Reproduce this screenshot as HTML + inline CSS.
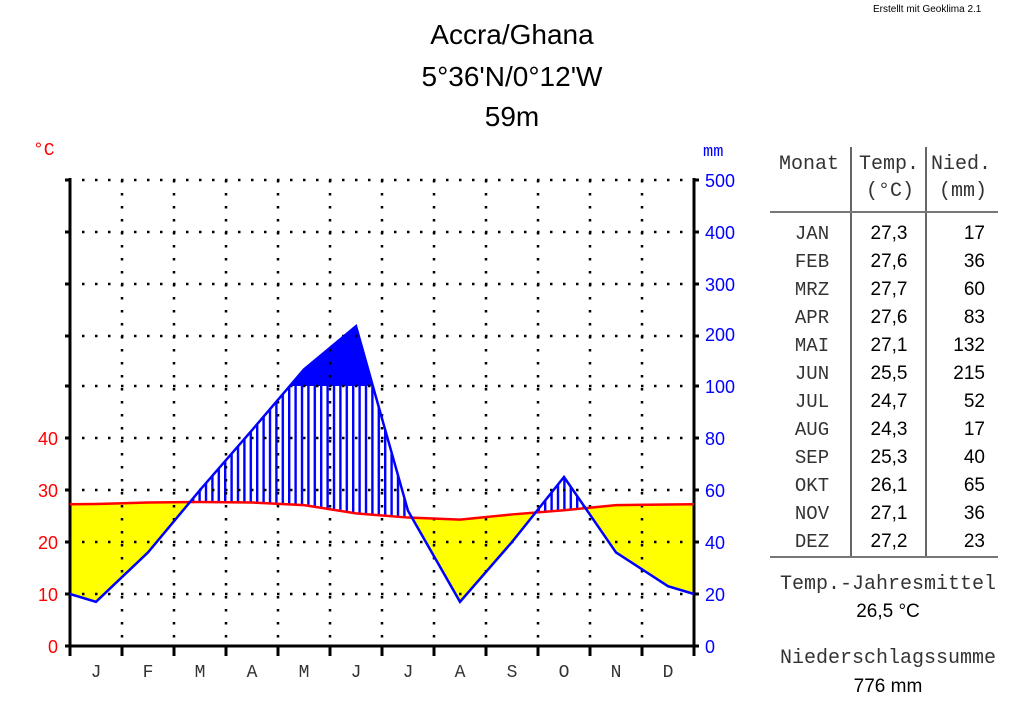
<!DOCTYPE html><html><head><meta charset="utf-8"><style>body{margin:0;background:#fff}svg{display:block}</style></head><body>
<svg width="1024" height="710" xmlns="http://www.w3.org/2000/svg" font-family="Liberation Sans, sans-serif">
<defs>
<clipPath id="belowT"><polygon points="70,504.3 96,504.04 148,502.48 200,501.96 252,502.48 304,505.08 356,513.4 408,517.56 460,519.64 512,514.44 564,510.28 616,505.08 668,504.56 694,504.3 694,700 70,700"/></clipPath>
<clipPath id="aboveT"><polygon points="70,504.3 96,504.04 148,502.48 200,501.96 252,502.48 304,505.08 356,513.4 408,517.56 460,519.64 512,514.44 564,510.28 616,505.08 668,504.56 694,504.3 694,386 70,386"/></clipPath>
<pattern id="hatch" width="6.4" height="10" patternUnits="userSpaceOnUse"><rect x="0" y="0" width="2.4" height="10" fill="#0000ff"/></pattern>
</defs>
<text x="873" y="12" font-size="10">Erstellt mit Geoklima 2.1</text>
<text x="512" y="44" font-size="28" text-anchor="middle">Accra/Ghana</text>
<text x="512" y="86" font-size="28" text-anchor="middle">5°36'N/0°12'W</text>
<text x="512" y="126" font-size="28" text-anchor="middle">59m</text>
<polygon clip-path="url(#belowT)" fill="#ffff00" points="70,594 96,601.8 148,552.4 200,490 252,430.2 304,369.36 356,326.2 408,510.8 460,601.8 512,542 564,477 616,552.4 668,586.2 694,594 694,300 70,300"/>
<polygon clip-path="url(#aboveT)" fill="url(#hatch)" points="70,594 96,601.8 148,552.4 200,490 252,430.2 304,369.36 356,326.2 408,510.8 460,601.8 512,542 564,477 616,552.4 668,586.2 694,594 694,700 70,700"/>
<polygon fill="#0000ff" points="289.8,386 304,369.36 356,326.2 373.2,386"/>
<g stroke="#000" stroke-width="2.5" stroke-dasharray="2.5 10.5" fill="none">
<path d="M82,180H694M82,232H694M82,284H694M82,336H694M82,386H694M82,438H694M82,490H694M82,542H694M82,594H694"/>
<path d="M122,180V646M174,180V646M226,180V646M278,180V646M330,180V646M382,180V646M434,180V646M486,180V646M538,180V646M590,180V646M642,180V646"/>
</g>
<g stroke="#000" stroke-width="3" fill="none">
<path d="M70,178V648M65,180H70M65,232H70M65,284H70M65,336H70M65,386H70M65,438H70M65,490H70M65,542H70M65,594H70M65,646H70"/>
<path d="M694,178V648M694,180H699M694,232H699M694,284H699M694,336H699M694,386H699M694,438H699M694,490H699M694,542H699M694,594H699M694,646H699"/>
<path d="M70,646H694M70,646V656M122,646V656M174,646V656M226,646V656M278,646V656M330,646V656M382,646V656M434,646V656M486,646V656M538,646V656M590,646V656M642,646V656M694,646V656"/>
</g>
<polyline fill="none" stroke="#ff0000" stroke-width="2.5" points="70,504.3 96,504.04 148,502.48 200,501.96 252,502.48 304,505.08 356,513.4 408,517.56 460,519.64 512,514.44 564,510.28 616,505.08 668,504.56 694,504.3"/>
<polyline fill="none" stroke="#0000ff" stroke-width="2.5" points="70,594 96,601.8 148,552.4 200,490 252,430.2 304,369.36 356,326.2 408,510.8 460,601.8 512,542 564,477 616,552.4 668,586.2 694,594"/>
<g fill="#ff0000" font-size="18" text-anchor="end">
<text x="58" y="653">0</text><text x="58" y="601">10</text><text x="58" y="549">20</text><text x="58" y="497">30</text><text x="58" y="445">40</text>
</g>
<text x="33" y="155" fill="#ff0000" font-size="18" font-family="Liberation Mono, monospace">°C</text>
<text x="703" y="156" fill="#0000ff" font-size="17" font-family="Liberation Mono, monospace">mm</text>
<g fill="#0000ff" font-size="18">
<text x="705" y="653">0</text><text x="705" y="601">20</text><text x="705" y="549">40</text><text x="705" y="497">60</text><text x="705" y="445">80</text><text x="705" y="393">100</text><text x="705" y="341">200</text><text x="705" y="291">300</text><text x="705" y="239">400</text><text x="705" y="187">500</text>
</g>
<g fill="#333" font-size="18" font-family="Liberation Mono, monospace" text-anchor="middle">
<text x="96" y="677">J</text><text x="148" y="677">F</text><text x="200" y="677">M</text><text x="252" y="677">A</text><text x="304" y="677">M</text><text x="356" y="677">J</text><text x="408" y="677">J</text><text x="460" y="677">A</text><text x="512" y="677">S</text><text x="564" y="677">O</text><text x="616" y="677">N</text><text x="668" y="677">D</text>
</g>
<g stroke="#000" stroke-width="1.2">
<path d="M851,147V557M926,147V557"/>
<path d="M770,212H998M770,557H998" stroke="#777" stroke-width="2"/>
</g>
<g font-family="Liberation Mono, monospace" font-size="20" fill="#333">
<text x="779" y="169">Monat</text><text x="859" y="169">Temp.</text><text x="931" y="169">Nied.</text>
<text x="866" y="196">(°C)</text><text x="939" y="196">(mm)</text>
</g>
<g font-family="Liberation Mono, monospace" font-size="19" fill="#333" text-anchor="middle">
<text x="812" y="239">JAN</text><text x="812" y="267">FEB</text><text x="812" y="295">MRZ</text><text x="812" y="323">APR</text><text x="812" y="351">MAI</text><text x="812" y="379">JUN</text><text x="812" y="407">JUL</text><text x="812" y="435">AUG</text><text x="812" y="463">SEP</text><text x="812" y="491">OKT</text><text x="812" y="519">NOV</text><text x="812" y="547">DEZ</text>
</g>
<g font-size="19" fill="#000" text-anchor="middle">
<text x="889" y="239">27,3</text><text x="889" y="267">27,6</text><text x="889" y="295">27,7</text><text x="889" y="323">27,6</text><text x="889" y="351">27,1</text><text x="889" y="379">25,5</text><text x="889" y="407">24,7</text><text x="889" y="435">24,3</text><text x="889" y="463">25,3</text><text x="889" y="491">26,1</text><text x="889" y="519">27,1</text><text x="889" y="547">27,2</text>
</g>
<g font-size="19" fill="#000" text-anchor="end">
<text x="985" y="239">17</text><text x="985" y="267">36</text><text x="985" y="295">60</text><text x="985" y="323">83</text><text x="985" y="351">132</text><text x="985" y="379">215</text><text x="985" y="407">52</text><text x="985" y="435">17</text><text x="985" y="463">40</text><text x="985" y="491">65</text><text x="985" y="519">36</text><text x="985" y="547">23</text>
</g>
<text x="780" y="589" font-family="Liberation Mono, monospace" font-size="20" fill="#333">Temp.-Jahresmittel</text>
<text x="888" y="617" font-size="19" text-anchor="middle">26,5 °C</text>
<text x="780" y="663" font-family="Liberation Mono, monospace" font-size="20" fill="#333">Niederschlagssumme</text>
<text x="888" y="692" font-size="19" text-anchor="middle">776 mm</text>
</svg>
</body></html>
